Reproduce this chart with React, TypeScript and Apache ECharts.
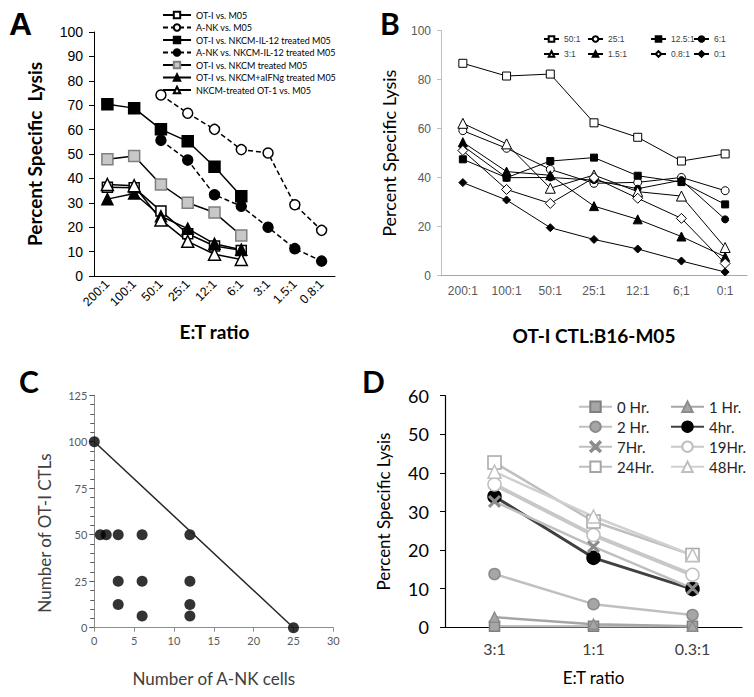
import React, { useEffect, useRef } from "react";
import * as echarts from "echarts";

// ---------- Panel A ----------
const aCategories = ["200:1", "100:1", "50:1", "25:1", "12:1", "6:1", "3:1", "1.5:1", "0.8:1"];
const aOtiM05 = [36.4, 36.2, 26.6, 17.3, 12.3, 10.5, null, null, null];
const aAnkM05 = [null, null, 74.2, 66.7, 60.1, 51.8, 50.4, 29.2, 18.7];
const aOtiIl12 = [70.4, 68.8, 60.1, 55.2, 44.8, 32.7, null, null, null];
const aAnkIl12 = [null, null, 55.6, 47.5, 33.3, 28.6, 20.0, 11.2, 6.1];
const aOtiNkcm = [47.8, 49.2, 37.5, 30.0, 26.0, 16.6, null, null, null];
const aOtiIfng = [31.5, 33.8, 24.5, 19.4, 13.2, 10.8, null, null, null];
const aNkcmOt1 = [37.5, 37.0, 23.0, 14.2, 8.9, 6.8, null, null, null];
const aYTicks = { min: 0, max: 100, interval: 10 };

// ---------- Panel B ----------
const bCategories = ["200:1", "100:1", "50:1", "25:1", "12:1", "6;1", "0:1"];
const b50 = [86.7, 81.5, 82.3, 62.4, 56.5, 46.8, 49.7];
const b25 = [59.2, 52.0, 43.4, 37.7, 38.1, 40.1, 34.7];
const b12_5 = [47.5, 40.0, 46.8, 48.2, 40.8, 38.2, 29.1];
const b6 = [53.0, 40.0, 40.1, 39.0, 35.5, 39.0, 23.0];
const b3 = [62.2, 53.8, 35.7, 41.1, 34.3, 32.5, 11.5];
const b1_5 = [54.5, 42.5, 41.0, 28.4, 23.0, 16.0, 7.7];
const b0_8 = [51.1, 35.2, 29.5, 40.0, 31.6, 23.4, 5.0];
const b0 = [38.0, 30.9, 19.6, 14.8, 10.9, 6.0, 1.5];

// ---------- Panel C ----------
const cAnkCells = [0, 25, 0.75, 1.5, 3, 6, 12, 3, 6, 12, 3, 12, 6, 12];
const cOtiCtls = [100, 0, 50, 50, 50, 50, 50, 25, 25, 25, 12.5, 12.5, 6.25, 6.25];
const cLineX = [0, 25];
const cLineY = [100, 0];

// ---------- Panel D ----------
const dCategories = ["3:1", "1:1", "0.3:1"];
const d0h = [0.3, 0.3, 0.3];
const d1h = [2.6, 0.8, 0.3];
const d2h = [13.8, 6.0, 3.2];
const d4h = [33.9, 18.0, 9.9];
const d7h = [32.6, 20.9, 10.1];
const d19h = [37.0, 23.9, 13.6];
const d24h = [42.7, 27.4, 18.7];
const d48h = [40.3, 28.7, 18.7];

const ARIAL = "Arial, 'Liberation Sans', sans-serif";
const CAL = "Lato, 'Open Sans', sans-serif";
const XMARK = "path://M0,1 L1,0 L5,4 L9,0 L10,1 L6,5 L10,9 L9,10 L5,6 L1,10 L0,9 L4,5 Z";

function aSeries(name: string, data: any[], symbol: string, size: number, fill: string, border: string, dashed: boolean) {
  return {
    type: "line", name, data, xAxisIndex: 0, yAxisIndex: 0,
    symbol, symbolSize: size, showSymbol: true,
    itemStyle: { color: fill, borderColor: border, borderWidth: 1.5 },
    lineStyle: { color: "#000", width: 1.5, type: dashed ? [5, 3] : "solid" },
  };
}
function bSeries(name: string, data: any[], symbol: string, size: number, fill: string) {
  return {
    type: "line", name, data, xAxisIndex: 1, yAxisIndex: 1,
    symbol, symbolSize: size,
    itemStyle: { color: fill, borderColor: "#000", borderWidth: 1 },
    lineStyle: { color: "#000", width: 1 },
  };
}
function dSeries(name: string, data: number[], symbol: string, size: number, fill: string, border: string, lineColor: string, width: number) {
  return {
    type: "line", name, data, xAxisIndex: 3, yAxisIndex: 3,
    symbol, symbolSize: size,
    itemStyle: { color: fill, borderColor: border, borderWidth: 1.5 },
    lineStyle: { color: lineColor, width },
  };
}

export default function App() {
  const ref = useRef<HTMLDivElement>(null);
  useEffect(() => {
    if (!ref.current) return;
    const chart = echarts.init(ref.current, undefined, { renderer: "svg" });
    const option: any = {
      animation: false,
      backgroundColor: "#fff",
      grid: [
        { left: 94, top: 32, width: 241, height: 244 },
        { left: 441, top: 30.7, width: 306, height: 245 },
        { left: 94.3, top: 395.2, width: 239, height: 232.5 },
        { left: 445, top: 395.7, width: 297, height: 231.6 },
      ],
      xAxis: [
        {
          gridIndex: 0, type: "category", data: aCategories, boundaryGap: true,
          axisLine: { lineStyle: { color: "#000", width: 1 } },
          axisTick: { length: 4, lineStyle: { color: "#000" } },
          axisLabel: { rotate: 45, fontFamily: ARIAL, fontSize: 12.5, color: "#000", margin: 6, interval: 0 },
          name: "E:T ratio", nameLocation: "middle", nameGap: 46,
          nameTextStyle: { fontFamily: CAL, fontWeight: "bold", fontSize: 19, color: "#000" },
        },
        {
          gridIndex: 1, type: "category", data: bCategories, boundaryGap: true,
          axisLine: { lineStyle: { color: "#a6a6a6" } },
          axisTick: { length: 4, lineStyle: { color: "#a6a6a6" } },
          axisLabel: { fontFamily: ARIAL, fontSize: 12, color: "#595959", margin: 9, interval: 0 },
          name: "OT-I CTL:B16-M05", nameLocation: "middle", nameGap: 50,
          nameTextStyle: { fontFamily: CAL, fontWeight: "bold", fontSize: 19, color: "#000" },
        },
        {
          gridIndex: 2, type: "value", min: 0, max: 30, interval: 5,
          splitLine: { show: false },
          axisLine: { show: true, lineStyle: { color: "#8c8c8c" } },
          axisTick: { show: true, length: 4, lineStyle: { color: "#8c8c8c" } },
          axisLabel: { fontFamily: CAL, fontSize: 11, color: "#595959", margin: 7 },
          name: "Number of A-NK cells", nameLocation: "middle", nameGap: 42,
          nameTextStyle: { fontFamily: CAL, fontSize: 17, color: "#404040" },
        },
        {
          gridIndex: 3, type: "category", data: dCategories, boundaryGap: true,
          axisLine: { lineStyle: { color: "#000", width: 1.2 } },
          axisTick: { length: 6, lineStyle: { color: "#000" } },
          axisLabel: { fontFamily: CAL, fontSize: 16, color: "#404040", margin: 13 },
          name: "E:T ratio", nameLocation: "middle", nameGap: 42,
          nameTextStyle: { fontFamily: CAL, fontSize: 17, color: "#000" },
        },
      ],
      yAxis: [
        {
          gridIndex: 0, type: "value", ...aYTicks,
          splitLine: { show: false },
          axisLine: { show: true, lineStyle: { color: "#000" } },
          axisTick: { show: true, length: 5, lineStyle: { color: "#000" } },
          axisLabel: { fontFamily: ARIAL, fontSize: 14, color: "#000", margin: 11 },
          name: "Percent Specific  Lysis", nameLocation: "middle", nameGap: 50,
          nameTextStyle: { fontFamily: CAL, fontWeight: "bold", fontSize: 19, color: "#000" },
        },
        {
          gridIndex: 1, type: "value", min: 0, max: 100, interval: 20,
          splitLine: { show: false },
          axisLine: { show: true, lineStyle: { color: "#bfbfbf" } },
          axisTick: { show: true, length: 4, lineStyle: { color: "#bfbfbf" } },
          axisLabel: { fontFamily: ARIAL, fontSize: 12, color: "#595959", margin: 10 },
          name: "Percent Specific Lysis", nameLocation: "middle", nameGap: 43,
          nameTextStyle: { fontFamily: CAL, fontSize: 18, color: "#000" },
        },
        {
          gridIndex: 2, type: "value", min: 0, max: 125, interval: 25,
          splitLine: { show: false },
          axisLine: { show: true, lineStyle: { color: "#8c8c8c" } },
          axisTick: { show: true, length: 5, lineStyle: { color: "#595959" } },
          minorTick: { show: true, splitNumber: 5, length: 4, lineStyle: { color: "#595959", width: 1 } },
          axisLabel: { fontFamily: CAL, fontSize: 11, color: "#595959", margin: 7 },
        },
        {
          gridIndex: 3, type: "value", min: 0, max: 60, interval: 10,
          splitLine: { show: false },
          axisLine: { show: true, lineStyle: { color: "#000", width: 1.2 } },
          axisTick: { show: true, length: 5, lineStyle: { color: "#000" } },
          axisLabel: { fontFamily: CAL, fontSize: 18, color: "#000", margin: 16 },
          name: "Percent Specific Lysis", nameLocation: "middle", nameGap: 53,
          nameTextStyle: { fontFamily: CAL, fontSize: 17, color: "#000" },
        },
      ],
      legend: [
        {
          orient: "vertical", left: 157, top: 4.5, itemWidth: 28, itemHeight: 8, itemGap: 1.5,
          textStyle: { fontFamily: CAL, fontSize: 9, color: "#000", lineHeight: 11 },
          data: ["OT-I vs. M05", "A-NK vs. M05", "OT-I vs. NKCM-IL-12 treated M05", "A-NK vs. NKCM-IL-12 treated M05",
            "OT-I vs. NKCM treated M05", "OT-I vs. NKCM+aIFNg treated M05", "NKCM-treated OT-1 vs. M05"],
        },
        ...[["50:1", "3:1", 538], ["25:1", "1.5:1", 582], ["12.5:1", "0.8:1", 645], ["6:1", "0:1", 688]].map((c) => ({
          orient: "vertical", left: c[2], top: 28, itemWidth: 15, itemHeight: 7, itemGap: 3,
          textStyle: { fontFamily: ARIAL, fontSize: 8.5, color: "#404040", lineHeight: 12 },
          data: [c[0], c[1]],
        })),
        {
          orient: "vertical", left: 573, top: 392.7, itemWidth: 33, itemHeight: 13, itemGap: 2,
          textStyle: { fontFamily: CAL, fontSize: 15, color: "#262626", lineHeight: 18 },
          data: ["0 Hr.", "2 Hr.", "7Hr.", "24Hr."],
        },
        {
          orient: "vertical", left: 665, top: 392.7, itemWidth: 33, itemHeight: 13, itemGap: 2,
          textStyle: { fontFamily: CAL, fontSize: 15, color: "#262626", lineHeight: 18 },
          data: ["1 Hr.", "4hr.", "19Hr.", "48Hr."],
        },
      ],
      graphic: [
        { type: "text", left: 9, top: 8, style: { text: "A", font: `bold 32px ${ARIAL}`, fill: "#000" } },
        { type: "text", left: 380, top: 8, style: { text: "B", font: `bold 30px ${CAL}`, fill: "#000" } },
        { type: "text", left: 19, top: 366, style: { text: "C", font: `bold 30px ${CAL}`, fill: "#000" } },
        { type: "text", left: 362, top: 366, style: { text: "D", font: `bold 30px ${CAL}`, fill: "#000" } },
        {
          type: "text", x: 44, y: 533, rotation: Math.PI / 2,
          style: { text: "Number of OT-I CTLs", font: `17px ${CAL}`, fill: "#404040", align: "center", verticalAlign: "middle" },
        },
      ],
      series: [
        aSeries("OT-I vs. M05", aOtiM05, "rect", 10, "#fff", "#000", false),
        aSeries("A-NK vs. M05", aAnkM05, "circle", 10, "#fff", "#000", true),
        aSeries("OT-I vs. NKCM-IL-12 treated M05", aOtiIl12, "rect", 11, "#000", "#000", false),
        aSeries("A-NK vs. NKCM-IL-12 treated M05", aAnkIl12, "circle", 10, "#000", "#000", true),
        aSeries("OT-I vs. NKCM treated M05", aOtiNkcm, "rect", 11, "#c8c8c8", "#7f7f7f", false),
        aSeries("OT-I vs. NKCM+aIFNg treated M05", aOtiIfng, "triangle", 11, "#000", "#000", false),
        aSeries("NKCM-treated OT-1 vs. M05", aNkcmOt1, "triangle", 12, "#fff", "#000", false),

        bSeries("50:1", b50, "rect", 8, "#fff"),
        bSeries("25:1", b25, "circle", 8, "#fff"),
        bSeries("12.5:1", b12_5, "rect", 7, "#000"),
        bSeries("6:1", b6, "circle", 7, "#000"),
        bSeries("3:1", b3, "triangle", 10, "#fff"),
        bSeries("1.5:1", b1_5, "triangle", 9, "#000"),
        bSeries("0.8:1", b0_8, "diamond", 10, "#fff"),
        bSeries("0:1", b0, "diamond", 8, "#000"),

        {
          type: "line", xAxisIndex: 2, yAxisIndex: 2, showSymbol: false, symbol: "none",
          data: cLineX.map((x, i) => [x, cLineY[i]]),
          lineStyle: { color: "#262626", width: 1.5 },
        },
        {
          type: "scatter", xAxisIndex: 2, yAxisIndex: 2, symbol: "circle", symbolSize: 11,
          data: cAnkCells.map((x, i) => [x, cOtiCtls[i]]),
          itemStyle: { color: "#000" },
        },

        dSeries("0 Hr.", d0h, "rect", 10, "#a6a6a6", "#7f7f7f", "#bfbfbf", 2.5),
        dSeries("1 Hr.", d1h, "triangle", 10, "#a6a6a6", "#8c8c8c", "#a6a6a6", 2.5),
        dSeries("2 Hr.", d2h, "circle", 11, "#a6a6a6", "#8c8c8c", "#c0c0c0", 2.5),
        dSeries("4hr.", d4h, "circle", 13, "#000", "#000", "#404040", 3),
        dSeries("7Hr.", d7h, XMARK, 11, "#8c8c8c", "#8c8c8c", "#bfbfbf", 2.5),
        dSeries("19Hr.", d19h, "circle", 13, "#fff", "#bfbfbf", "#c8c8c8", 4),
        dSeries("24Hr.", d24h, "rect", 13, "#fff", "#a6a6a6", "#bfbfbf", 2.5),
        dSeries("48Hr.", d48h, "triangle", 13, "#fff", "#bfbfbf", "#d0d0d0", 2.5),
      ],
    };
    chart.setOption(option);
    return () => chart.dispose();
  }, []);
  return <div ref={ref} style={{ position: "fixed", left: 0, top: 0, width: 754, height: 697, background: "#fff" }} />;
}
